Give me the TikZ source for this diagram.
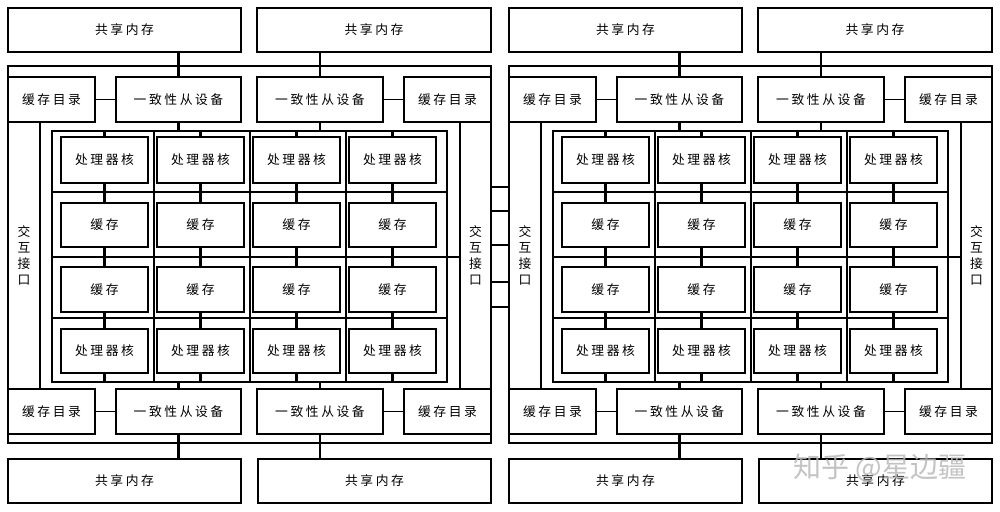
\documentclass[tikz,border=0pt]{standalone}
\usepackage{fontspec}
\newfontfamily\cjk[LetterSpace=20]{Noto Sans CJK SC}
\newfontfamily\cjkwm{Noto Sans CJK SC}
\tikzset{
  box/.style={draw, line width=1.3pt, rectangle, inner sep=0pt, fill=white,
    font=\fontsize{12.8}{16}\selectfont\cjk, align=center},
  frm/.style={draw, line width=1.3pt, rectangle, inner sep=0pt},
  grd/.style={line width=2.6pt},
  conn/.style={line width=2.4pt},
  thinc/.style={line width=1.3pt},
}
\newcommand{\chip}[2]{%
\begin{scope}[xshift=#1]
  % chip frame and grid
  \node[frm, minimum width=483pt, minimum height=377pt] (#2frame) at (249.5,254.5) {};
  \node[frm, line width=2.6pt, minimum width=395pt, minimum height=251pt] (#2grid) at (249.5,256.5) {};
  \draw[grd] (154,131) -- (154,382) (250,131) -- (250,382) (346,131) -- (346,382)
             (52,192) -- (447,192) (52,257) -- (447,257) (52,318) -- (447,318);
  % memories
  \node[box, minimum width=233pt, minimum height=44pt] (#2mTL) at (124.5,30) {共享内存};
  \node[box, minimum width=234pt, minimum height=44pt] (#2mTR) at (374,30) {共享内存};
  \node[box, minimum width=233pt, minimum height=44pt] (#2mBL) at (124.5,481) {共享内存};
  \node[box, minimum width=233pt, minimum height=44pt] (#2mBR) at (374.5,481) {共享内存};
  % directories and coherence devices
  \node[box, minimum width=87pt, minimum height=45pt] (#2dTL) at (51.5,99.5) {缓存目录};
  \node[box, minimum width=125pt, minimum height=45pt] (#2cTL) at (178.5,99.5) {一致性从设备};
  \node[box, minimum width=126pt, minimum height=45pt] (#2cTR) at (320,99.5) {一致性从设备};
  \node[box, minimum width=87pt, minimum height=45pt] (#2dTR) at (447.5,99.5) {缓存目录};
  \node[box, minimum width=87pt, minimum height=45pt] (#2dBL) at (51.5,411.5) {缓存目录};
  \node[box, minimum width=125pt, minimum height=45pt] (#2cBL) at (178.5,411.5) {一致性从设备};
  \node[box, minimum width=126pt, minimum height=45pt] (#2cBR) at (320,411.5) {一致性从设备};
  \node[box, minimum width=87pt, minimum height=45pt] (#2dBR) at (447.5,411.5) {缓存目录};
  % interfaces
  \node[box, minimum width=32pt, minimum height=267pt] (#2iL) at (24,255.5) {交\\互\\接\\口};
  \node[box, minimum width=31pt, minimum height=267pt] (#2iR) at (475.5,255.5) {交\\互\\接\\口};
  % cores and caches
  \foreach \k/\x in {1/104.5,2/200.5,3/296.5,4/392.5}{
    \node[box, minimum width=87pt, minimum height=46pt] (#2pa\k) at (\x,160) {处理器核};
    \node[box, minimum width=87pt, minimum height=44pt] (#2ca\k) at (\x,225) {缓存};
    \node[box, minimum width=87pt, minimum height=45pt] (#2cb\k) at (\x,289.5) {缓存};
    \node[box, minimum width=87pt, minimum height=44pt] (#2pb\k) at (\x,351) {处理器核};
    \draw[conn] (#2pa\k.north) -- (#2pa\k.north |- #2grid.north);
    \draw[conn] (#2pa\k.south) -- (#2ca\k.north);
    \draw[conn] (#2ca\k.south) -- (#2cb\k.north);
    \draw[conn] (#2cb\k.south) -- (#2pb\k.north);
    \draw[conn] (#2pb\k.south) -- (#2pb\k.south |- #2grid.south);
  }
  % connectors
  \draw[conn] (#2cTL.north) -- (#2cTL.north |- #2mTL.south);
  \draw[conn] (#2cTR.north) -- (#2cTR.north |- #2mTR.south);
  \draw[conn] (#2cBL.south) -- (#2cBL.south |- #2mBL.north);
  \draw[conn] (#2cBR.south) -- (#2cBR.south |- #2mBR.north);
  \draw[conn] (#2cTL.south) -- (#2cTL.south |- #2grid.north);
  \draw[conn] (#2cTR.south) -- (#2cTR.south |- #2grid.north);
  \draw[conn] (#2cBL.north) -- (#2cBL.north |- #2grid.south);
  \draw[conn] (#2cBR.north) -- (#2cBR.north |- #2grid.south);
  \draw[thinc] (#2dTL.east) -- (#2cTL.west);
  \draw[thinc] (#2cTR.east) -- (#2dTR.west);
  \draw[thinc] (#2dBL.east) -- (#2cBL.west);
  \draw[thinc] (#2cBR.east) -- (#2dBR.west);
  \draw[grd] (#2grid.east |- 0,257) -- (#2iR.west |- 0,257);
\end{scope}}
\begin{document}
\begin{tikzpicture}[x=1pt, y=-1pt]
  \useasboundingbox (0,0) rectangle (1000,511);
  \chip{0pt}{L}
  \chip{501pt}{R}
  \foreach \y in {187,211,245,282,307}{
    \draw[grd] (LiR.east |- 0,\y) -- (RiL.west |- 0,\y);
  }
  \node[text=gray!55, opacity=0.85, font=\fontsize{28}{28}\selectfont\cjkwm] (wm) at (880,468) {知乎 @星边疆};
\end{tikzpicture}
\end{document}
